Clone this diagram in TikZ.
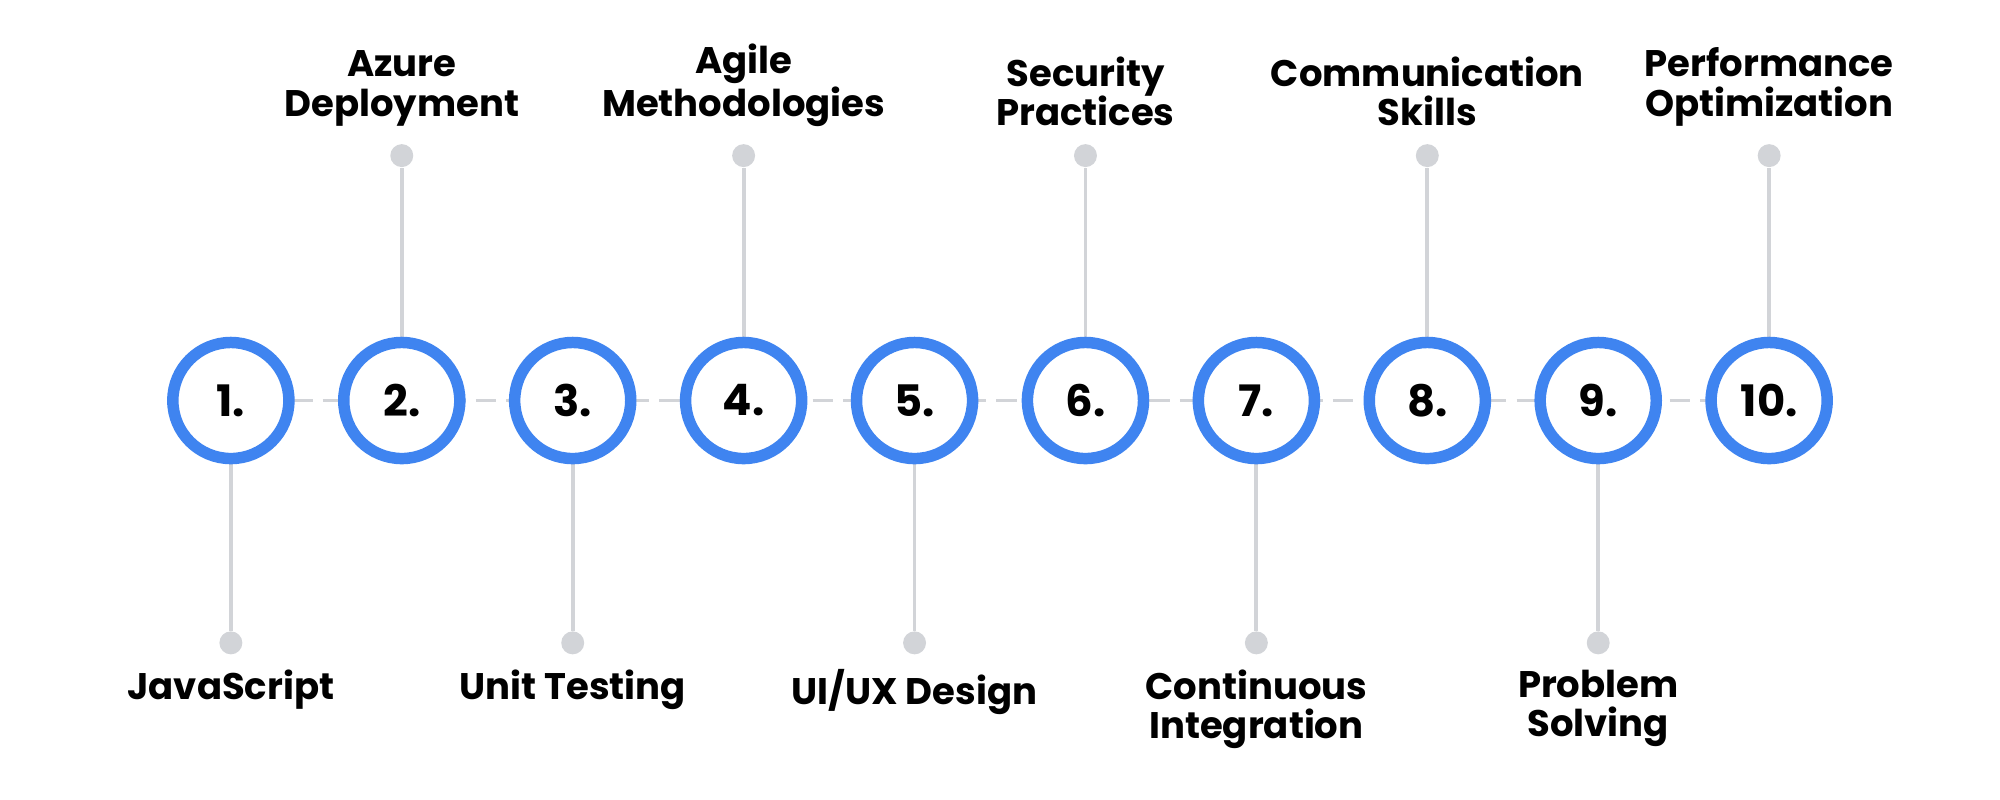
\documentclass[tikz,border=0pt]{standalone}
\usepackage{fontspec}
\setmainfont{Poppins}
\begin{document}
\begin{tikzpicture}[x=0.5pt,y=-0.5pt,
  ring/.style={circle,draw=ringc,line width=4.5pt,fill=white,minimum size=45.5pt,inner sep=0pt,font=\fontsize{17}{20}\selectfont\bfseries},
  stem/.style={draw=lineg,line width=1.5pt},
  dotn/.style={circle,fill=lineg,minimum size=9pt,inner sep=0pt},
  lbl/.style={align=center,font=\fontsize{14.5}{15.5}\selectfont\bfseries}]
\definecolor{ringc}{HTML}{3F84F0}
\definecolor{lineg}{HTML}{D2D4D8}
\useasboundingbox (0,0) rectangle (1568,627);
\foreach \i/\t [evaluate=\i as \x using 181+134*(\i-1)] in
 {1/JavaScript,2/{Azure\\Deployment},3/Unit Testing,4/{Agile\\Methodologies},5/{UI/UX Design},6/{Security\\Practices},7/{Continuous\\Integration},8/{Communication\\Skills},9/{Problem\\Solving},10/{Performance\\Optimization}}{
  \coordinate (c\i) at (\x,314);
  \ifodd\i
    \node[dotn] (d\i) at (\x,504) {};
    \node[lbl,anchor=north] (l\i) at (\x,518) {\t};
  \else
    \node[dotn] (d\i) at (\x,122) {};
    \node[lbl,anchor=south] (l\i) at (\x,106) {\t};
  \fi
  \draw[stem] (c\i) -- (d\i);
}
\draw[stem,dashed,dash pattern=on 8pt off 4pt] (c1) -- (c10);
\foreach \i in {1,...,10}{
  \node[ring] (n\i) at (c\i) {\i.};
}
\end{tikzpicture}
\end{document}
